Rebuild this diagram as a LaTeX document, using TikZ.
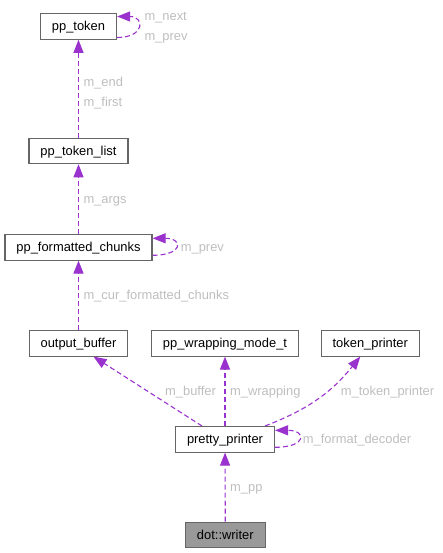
\documentclass[tikz,border=0pt]{standalone}
\usepackage{fontspec}
\setmainfont{Liberation Sans}
\usetikzlibrary{arrows.meta}
\definecolor{relpurple}{HTML}{9A32CD}
\definecolor{lblgrey}{HTML}{BEBEBE}
\definecolor{boxgrey}{HTML}{666666}
\definecolor{curgrey}{HTML}{999999}
\pgfdeclarelayer{bg}
\pgfsetlayers{bg,main}
\tikzset{
  cls/.style={draw=boxgrey, fill=white, line width=1.1pt, minimum height=25.5pt,
    inner xsep=11.5pt, inner ysep=0pt, text height=11pt, text depth=2.4pt,
    font=\fontsize{12.9}{14}\selectfont},
  rel/.style={draw=relpurple, line width=1.1pt, dash pattern=on 5pt off 3pt,
    -{Triangle[length=13pt,width=10pt,fill=relpurple]}},
  lbl/.style={text=lblgrey, anchor=west, inner sep=0pt, text height=11pt, text depth=2.4pt,
    font=\fontsize{12.9}{14}\selectfont}
}

\begin{document}
\begin{tikzpicture}[x=1pt, y=-1pt]
        \useasboundingbox (0,0) rectangle (443,553);
        \node (tok) [cls] at (78.5, 26.5) {pp\_token};
        \node (toklist) [cls] at (78.5, 151) {pp\_token\_list};
        \node (chunks) [cls] at (78.5, 247.3) {pp\_formatted\_chunks};
        \node (outbuf) [cls] at (78.5, 343.3) {output\_buffer};
        \node (wrap) [cls] at (225, 343.3) {pp\_wrapping\_mode\_t};
        \node (tokpr) [cls] at (370.3, 343.3) {token\_printer};
        \node (pp) [cls] at (225, 439.3) {pretty\_printer};
        \node (writer) [cls, fill=curgrey] at (225.3, 535) {dot::writer};
        \node (lnext) [lbl] at (144.3, 16) {m\_next};
        \node (lprev) [lbl] at (144.3, 36) {m\_prev};
        \node (lend) [lbl] at (83.3, 82.5) {m\_end};
        \node (lfirst) [lbl] at (83.3, 102.5) {m\_first};
        \node (largs) [lbl] at (83.3, 199) {m\_args};
        \node (lprev2) [lbl] at (180.7, 247) {m\_prev};
        \node (lcur) [lbl] at (83.3, 295) {m\_cur\_formatted\_chunks};
        \node (lbuf) [lbl] at (165, 391) {m\_buffer};
        \node (lwrap) [lbl] at (230, 391) {m\_wrapping};
        \node (ltokpr) [lbl] at (340.7, 391) {m\_token\_printer};
        \node (lfmt) [lbl] at (302.7, 439) {m\_format\_decoder};
        \node (lpp) [lbl] at (230, 487) {m\_pp};
        \begin{pgfonlayer}{bg}
                \draw [rel] (toklist) -- (tok);
                \draw [rel] ([yshift=-11pt]tok.east) .. controls +(28,0) and +(28,0) .. ([yshift=10pt]tok.east);
                \draw [rel] (chunks) -- (toklist);
                \draw [rel] ([yshift=-8pt]chunks.east) .. controls +(31,0) and +(31,0) .. ([yshift=9pt]chunks.east);
                \draw [rel] (outbuf) -- (chunks);
                \draw [rel] ([xshift=-23pt]pp.north) -- ([xshift=15pt]outbuf.south);
                \draw [rel] (pp) -- (wrap);
                \draw [rel] ([xshift=40pt]pp.north) to [bend right=15] ([xshift=-10pt]tokpr.south);
                \draw [rel] ([yshift=-8pt]pp.east) .. controls +(32,0) and +(32,0) .. ([yshift=9pt]pp.east);
                \draw [rel] (writer) -- (pp);
        \end{pgfonlayer}
\end{tikzpicture}
\end{document}
